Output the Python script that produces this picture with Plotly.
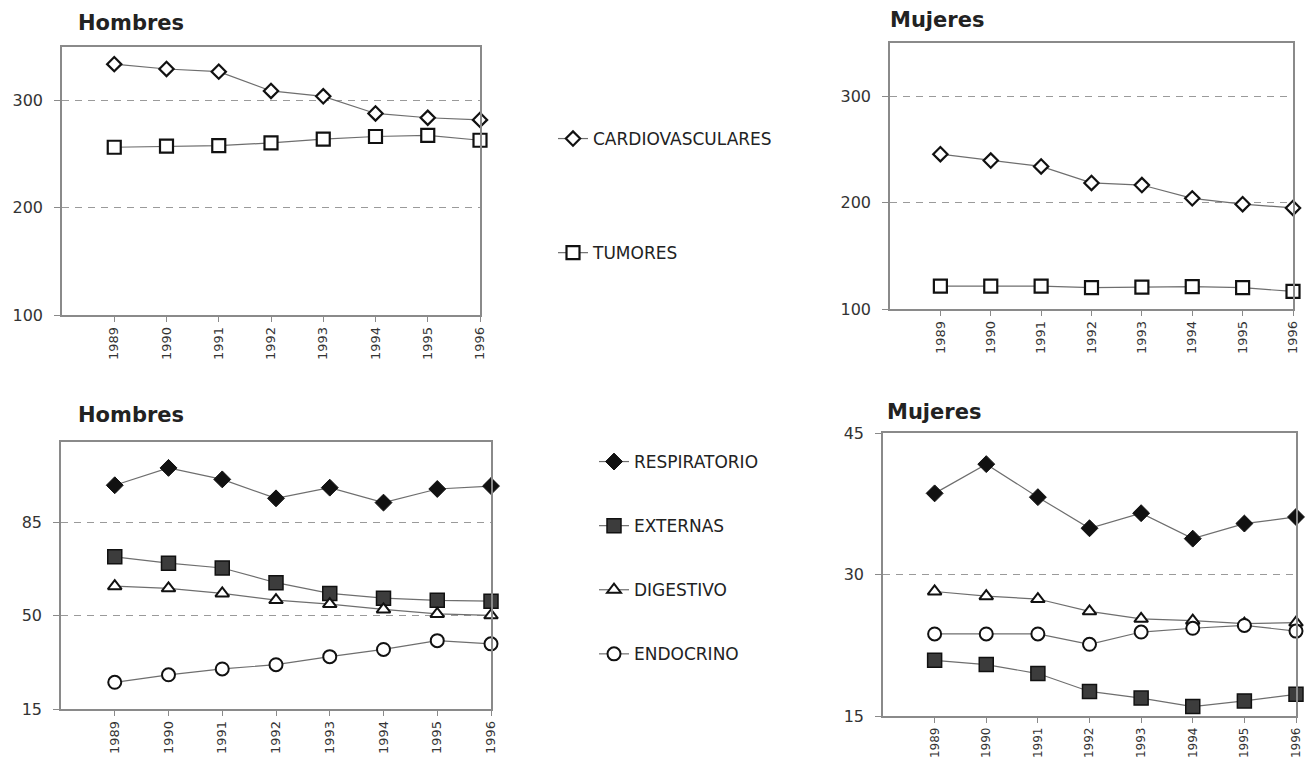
import plotly.graph_objects as go

# ---------------- data ----------------
years = [1989, 1990, 1991, 1992, 1993, 1994, 1995, 1996]
year_labels = [str(y) for y in years]

cardio_hombres = [334, 329.5, 327, 309, 304, 288, 284, 282]
tumores_hombres = [256.5, 257.5, 258, 260.5, 264, 266.5, 267.5, 263]
cardio_mujeres = [245.5, 239.5, 234, 218.5, 216.5, 204, 198.5, 195]
tumores_mujeres = [121.5, 121.5, 121.5, 120, 120.5, 121, 120, 116.5]

resp_hombres = [98.8, 105.3, 101, 93.9, 97.9, 92.3, 97.4, 98.5]
ext_hombres = [72, 69.6, 67.8, 62.3, 58.3, 56.5, 55.7, 55.4]
dig_hombres = [61, 60.2, 58.3, 55.8, 54.3, 52.3, 50.6, 50.1]
endo_hombres = [25, 27.8, 30, 31.6, 34.6, 37.3, 40.6, 39.4]

resp_mujeres = [38.6, 41.7, 38.2, 34.9, 36.5, 33.8, 35.4, 36.1]
ext_mujeres = [20.9, 20.45, 19.5, 17.6, 16.9, 16.0, 16.6, 17.3]
dig_mujeres = [28.2, 27.7, 27.4, 26.1, 25.3, 25.1, 24.8, 24.9]
endo_mujeres = [23.7, 23.7, 23.7, 22.6, 23.9, 24.3, 24.6, 24.0]

top_names = ["CARDIOVASCULARES", "TUMORES"]
bottom_names = ["RESPIRATORIO", "EXTERNAS", "DIGESTIVO", "ENDOCRINO"]
panel_titles = ["Hombres", "Mujeres", "Hombres", "Mujeres"]

yticks_top = [100, 200, 300]
yticks_bl = [15, 50, 85]
yticks_br = [15, 30, 45]

# ---------------- styles ----------------
# the page body has an 8px default margin, so the figure starts at (8, 8)
OFF = 8
W, H = 1314 - OFF, 763 - OFF
FONT = "DejaVu Sans"
LINE = dict(color="#6e6e6e", width=1.2)
INK = "#111111"

m_cardio = dict(symbol="diamond", size=11, color="white", line=dict(color=INK, width=2.2))
m_tumor = dict(symbol="square", size=13, color="white", line=dict(color=INK, width=2.2))
m_resp = dict(symbol="diamond", size=13, color=INK, line=dict(color=INK, width=1))
m_ext = dict(symbol="square", size=14, color="#3c3c3c", line=dict(color=INK, width=1.5))
m_dig = dict(symbol="triangle-up", size=12, color="white", line=dict(color=INK, width=2))
m_endo = dict(symbol="circle", size=13, color="white", line=dict(color=INK, width=2))


def fx(px):
    return (px - OFF) / W


def fy(py):
    return 1 - (py - OFF) / H


def px_x(a, b):
    return [fx(a), fx(b)]


def px_y(top, bottom):
    return [fy(bottom), fy(top)]


fig = go.Figure()


def add(xa, ya, y, name, marker, group, legend, show):
    fig.add_trace(go.Scatter(
        x=years, y=y, name=name, mode="lines+markers",
        line=LINE, marker=marker, xaxis=xa, yaxis=ya,
        legendgroup=group, legend=legend, showlegend=show,
        cliponaxis=False,
    ))


# top panels
add("x", "y", cardio_hombres, top_names[0], m_cardio, "cardio", "legend", True)
add("x", "y", tumores_hombres, top_names[1], m_tumor, "tumor", "legend", True)
add("x2", "y2", cardio_mujeres, top_names[0], m_cardio, "cardio", "legend", False)
add("x2", "y2", tumores_mujeres, top_names[1], m_tumor, "tumor", "legend", False)

# bottom panels
add("x3", "y3", resp_hombres, bottom_names[0], m_resp, "resp", "legend2", True)
add("x3", "y3", ext_hombres, bottom_names[1], m_ext, "ext", "legend2", True)
add("x3", "y3", dig_hombres, bottom_names[2], m_dig, "dig", "legend2", True)
add("x3", "y3", endo_hombres, bottom_names[3], m_endo, "endo", "legend2", True)
add("x4", "y4", resp_mujeres, bottom_names[0], m_resp, "resp", "legend2", False)
add("x4", "y4", ext_mujeres, bottom_names[1], m_ext, "ext", "legend2", False)
add("x4", "y4", dig_mujeres, bottom_names[2], m_dig, "dig", "legend2", False)
add("x4", "y4", endo_mujeres, bottom_names[3], m_endo, "endo", "legend2", False)

AX_COLOR = "#8a8a8a"


def xaxis(domain, anchor, size=13):
    return dict(
        domain=domain, anchor=anchor, range=[1988, 1996],
        tickmode="array", tickvals=years, ticktext=year_labels,
        tickangle=-90, ticks="outside", ticklen=5, tickcolor=AX_COLOR,
        showline=True, linecolor=AX_COLOR, linewidth=1.5, mirror=True,
        showgrid=False, zeroline=False, ticklabelstandoff=0,
        automargin=False,
        tickfont=dict(family=FONT, size=size, color="#333333"),
    )


def yaxis(domain, anchor, rng, ticks):
    return dict(
        domain=domain, anchor=anchor, range=rng,
        tickmode="array", tickvals=ticks,
        ticks="outside", ticklen=6, tickcolor=AX_COLOR,
        showline=True, linecolor=AX_COLOR, linewidth=1.5, mirror=True,
        showgrid=True, gridcolor="#9a9a9a", gridwidth=1.2, griddash="7px,6px",
        zeroline=False, ticklabelstandoff=8, automargin=False,
        tickfont=dict(family=FONT, size=16, color="#333333"),
    )


fig.update_layout(
    width=W, height=H,
    margin=dict(l=0, r=0, t=0, b=0, pad=0),
    paper_bgcolor="white", plot_bgcolor="white",
    xaxis=xaxis(px_x(62, 480), "y"),
    yaxis=yaxis(px_y(47, 315), "x", [100, 350], yticks_top),
    xaxis2=xaxis(px_x(890, 1293), "y2"),
    yaxis2=yaxis(px_y(43, 309), "x2", [100, 350], yticks_top),
    xaxis3=xaxis(px_x(61, 491), "y3"),
    yaxis3=yaxis(px_y(442, 709), "x3", [15, 115], yticks_bl),
    xaxis4=xaxis(px_x(883, 1296), "y4", size=12),
    yaxis4=yaxis(px_y(433, 716), "x4", [15, 45], yticks_br),
    legend=dict(
        x=fx(553), y=fy(121), xanchor="left", yanchor="top",
        traceorder="grouped", tracegroupgap=89,
        bgcolor="rgba(0,0,0,0)", borderwidth=0,
        font=dict(family=FONT, size=17, color="#222222"),
    ),
    legend2=dict(
        x=fx(594), y=fy(444), xanchor="left", yanchor="top",
        traceorder="grouped", tracegroupgap=39,
        bgcolor="rgba(0,0,0,0)", borderwidth=0,
        font=dict(family=FONT, size=17, color="#222222"),
    ),
    showlegend=True,
)

title_pos = [(76, 23), (888, 20), (76, 415), (885, 412)]
for text, (tx, ty) in zip(panel_titles, title_pos):
    fig.add_annotation(
        text="<b>%s</b>" % text, x=fx(tx), y=fy(ty),
        xref="paper", yref="paper", xanchor="left", yanchor="middle",
        showarrow=False, font=dict(family=FONT, size=21, color="#222222"),
    )

fig.write_html("out.html")
